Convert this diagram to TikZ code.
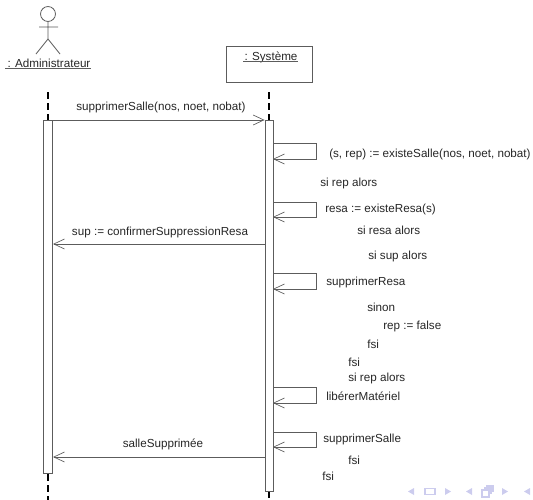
\documentclass[tikz,border=0pt]{standalone}
\usepackage{fontspec}
\setmainfont{Liberation Sans}
\usetikzlibrary{arrows.meta,calc}
\definecolor{ln}{gray}{0.36}
\definecolor{nav}{RGB}{204,204,238}
\tikzset{
  x=0.75pt,y=-0.75pt,
  lbl/.style={font=\fontsize{8.75}{10}\selectfont,text=black!85,inner sep=0pt,anchor=west,yshift=-1.1pt},
  clbl/.style={font=\fontsize{8.75}{10}\selectfont,text=black!85,inner sep=0pt,anchor=center,yshift=-1.1pt},
  msg/.style={draw=ln,line width=0.65pt,-{Straight Barb[length=8pt,width=7.5pt,line width=0.5pt]}},
  life/.style={draw=black,line width=1.1pt,dash pattern=on 5.5pt off 2.8pt},
  act/.style={draw=ln,fill=white,line width=0.6pt},
  navf/.style={fill=nav,draw=none},
  navd/.style={draw=nav,line width=0.8pt,fill=white}
}
\newcommand{\selfcall}[3]{%
  \coordinate (#1a) at (273,#2);\coordinate (#1b) at (316,#2);
  \coordinate (#1c) at (316,#3);\coordinate (#1d) at (273,#3);
  \draw[msg] (#1a) -- (#1b) -- (#1c) -- (#1d);}
\begin{document}
\begin{tikzpicture}
\useasboundingbox (0,0) rectangle (533,500);
% actor
\node[circle,draw=ln,line width=0.6pt,minimum size=11.2pt,inner sep=0pt] (head) at (48,14) {};
\coordinate (hip) at (48,39);
\coordinate (armL) at (39,27);\coordinate (armR) at (58,27);
\coordinate (legL) at (36,54);\coordinate (legR) at (60,54);
\draw[draw=ln,line width=0.6pt] (head.south) -- (hip) (armL) -- (armR) (legL) -- (hip) -- (legR);
\node[clbl] (admin) at (49,61.5) {: Administrateur};
\coordinate (ula) at (5,68);\coordinate (ulb) at (91,68);
\draw[draw=ln,line width=0.6pt] (ula) -- (ulb);
% system
\node[draw=ln,line width=0.6pt,minimum width=64.5pt,minimum height=27pt,inner sep=0pt] (sysbox) at (269,64) {};
\node[clbl] (sys) at (271,56) {: Système};
\coordinate (usa) at (243,61);\coordinate (usb) at (298,61);
\draw[draw=ln,line width=0.6pt] (usa) -- (usb);
% lifelines
\coordinate (lt) at (48,92);\coordinate (ltb) at (48,120);
\coordinate (st) at (269,92);\coordinate (stb) at (269,120);
\coordinate (lb) at (48,474);\coordinate (lbb) at (48,500);
\coordinate (sb) at (269,491);\coordinate (sbb) at (269,500);
\draw[life] (lt) -- (ltb);
\draw[life] (st) -- (stb);
\draw[life] (lb) -- (lbb);
\draw[life] (sb) -- (sbb);
% activations
\node[act,minimum width=7pt,minimum height=264.75pt,inner sep=0pt] (actL) at (48,296.5) {};
\node[act,minimum width=6pt,minimum height=278.25pt,inner sep=0pt] (actS) at (269,305.5) {};
% messages
\coordinate (m1a) at (actL.east |- 0,120);\coordinate (m1b) at (actS.west |- 0,120);
\draw[msg] (m1a) -- (m1b);
\node[clbl] (t1) at (161,106) {supprimerSalle(nos, noet, nobat)};
\coordinate (m2a) at (actS.west |- 0,244);\coordinate (m2b) at (actL.east |- 0,244);
\draw[msg] (m2a) -- (m2b);
\node[clbl] (t2) at (160,231) {sup := confirmerSuppressionResa};
\coordinate (m3a) at (actS.west |- 0,457);\coordinate (m3b) at (actL.east |- 0,457);
\draw[msg] (m3a) -- (m3b);
\node[clbl] (t3) at (163,443) {salleSupprimée};
% self calls
\selfcall{sa}{143}{159}
\selfcall{sc}{202}{217}
\selfcall{se}{273}{289}
\selfcall{sg}{387}{403}
\selfcall{si}{432}{447}
% text
\node[lbl] (a1) at (329,153) {(s, rep) := existeSalle(nos, noet, nobat)};
\node[lbl] (a2) at (320,182) {si rep alors};
\node[lbl] (a3) at (325,208) {resa := existeResa(s)};
\node[lbl] (a4) at (357,229) {si resa alors};
\node[lbl] (a5) at (368,255) {si sup alors};
\node[lbl] (a6) at (326,281) {supprimerResa};
\node[lbl] (a7) at (367,306) {sinon};
\node[lbl] (a8) at (383,325) {rep := false};
\node[lbl] (a9) at (367,343) {fsi};
\node[lbl] (a10) at (348,361) {fsi};
\node[lbl] (a11) at (348,377) {si rep alors};
\node[lbl] (a12) at (326,395) {libérerMatériel};
\node[lbl] (a13) at (323,438) {supprimerSalle};
\node[lbl] (a14) at (348,459) {fsi};
\node[lbl] (a15) at (322,475) {fsi};
% navigation symbols
\fill[navf] (408,491.5) -- (414,488) -- (414,495) -- cycle;
\draw[navd] (425,488.5) rectangle (435,494.5);
\fill[navf] (451,491.5) -- (445,488) -- (445,495) -- cycle;
\fill[navf] (466,491.5) -- (472,488) -- (472,495) -- cycle;
\draw[navd] (487,486) rectangle (493,491);
\draw[navd] (484.5,488) rectangle (491,493);
\draw[navd] (482,490) rectangle (489,497);
\fill[navf] (508,491.5) -- (502,488) -- (502,495) -- cycle;
\fill[navf] (524,491.5) -- (530,488) -- (530,495) -- cycle;
\end{tikzpicture}
\end{document}
